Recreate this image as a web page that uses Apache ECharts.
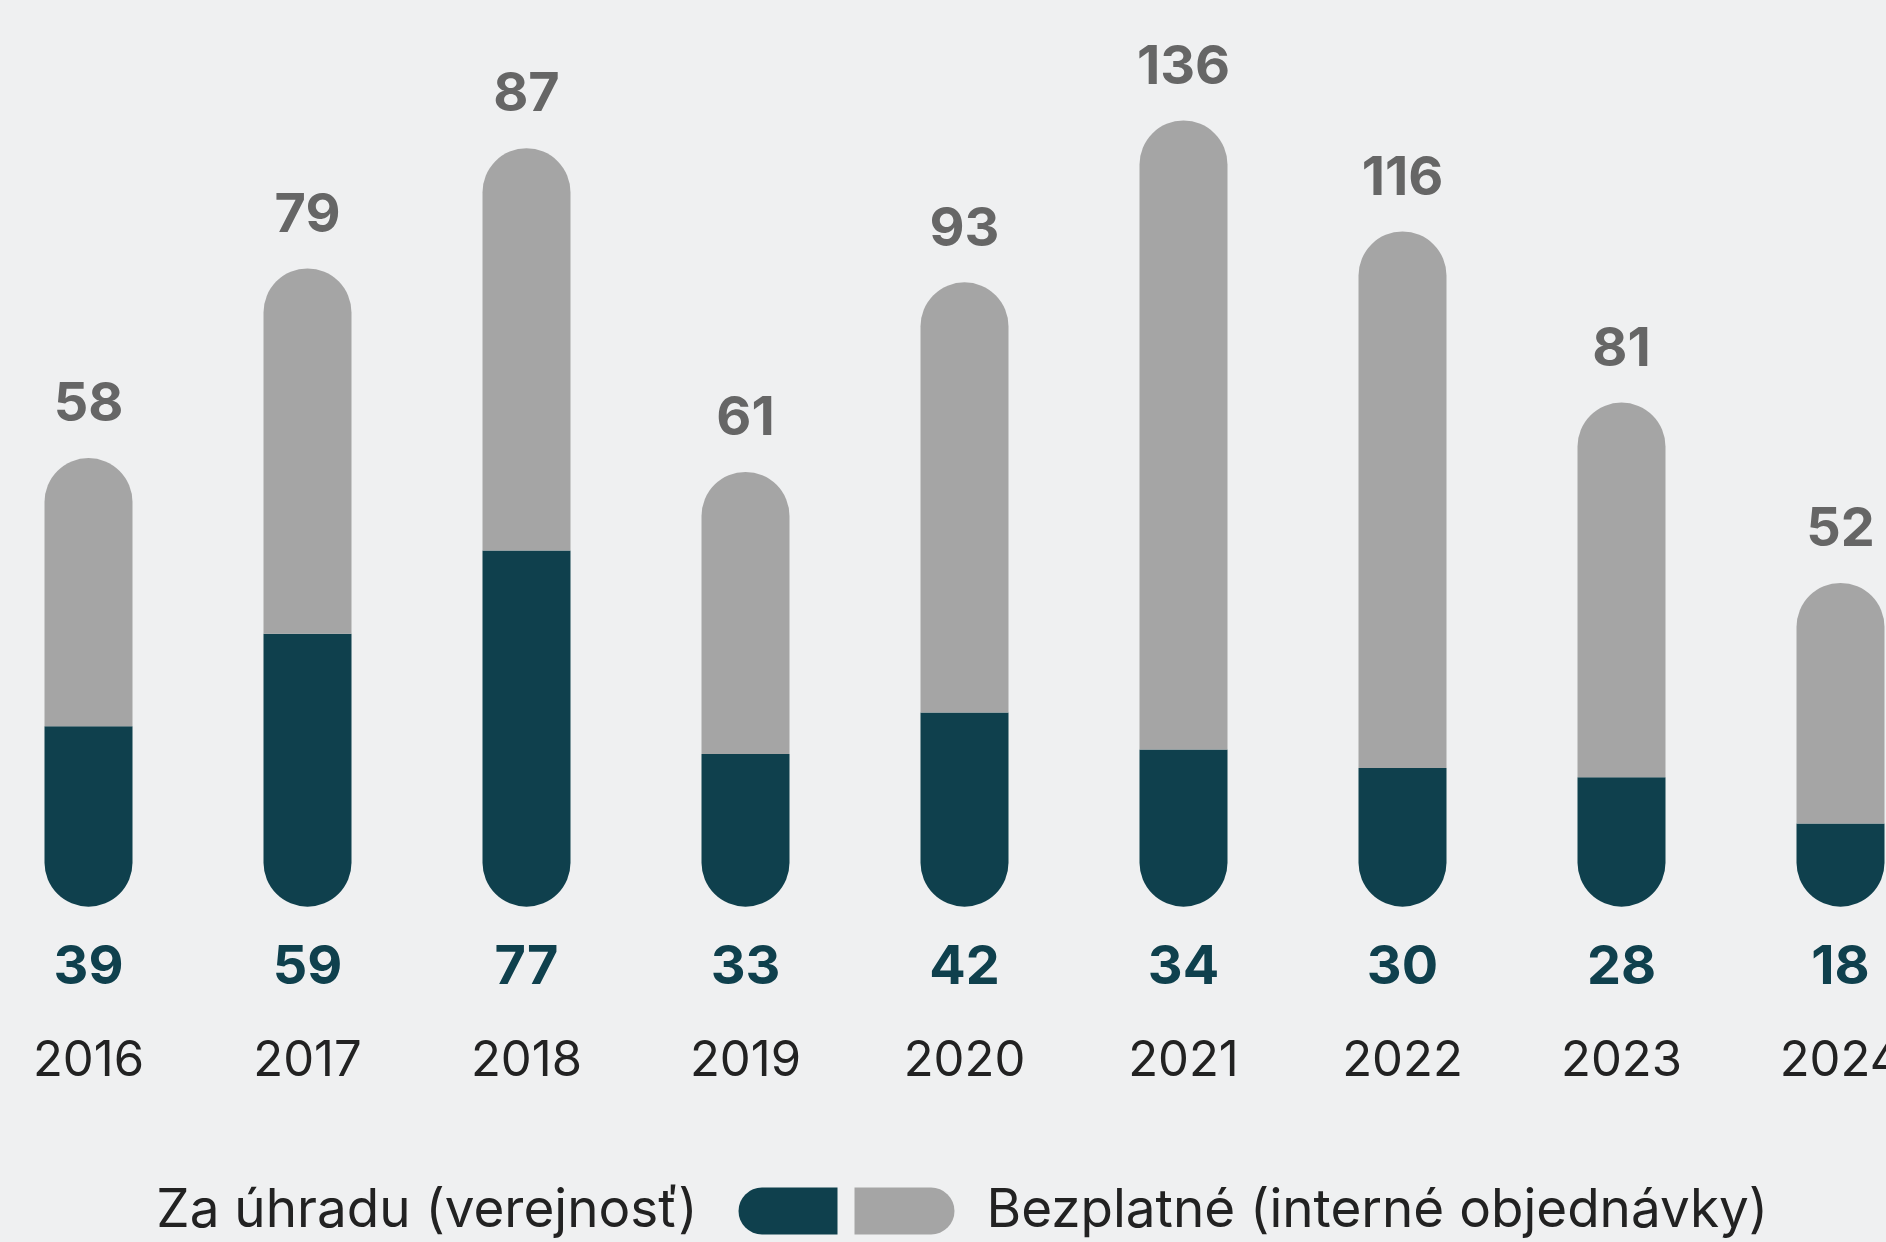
<!DOCTYPE html>
<html>
<head>
<meta charset="utf-8">
<script src="https://cdn.jsdelivr.net/npm/echarts@6/dist/echarts.min.js"></script>
<style>
  html, body { margin: 0; padding: 0; background: #eff0f1; overflow: hidden; }
  /* the chart runs past both edges of the page, so the canvas is wider and shifted left */
  #chart { width: 1971px; height: 1242px; margin-left: -21.5px; }
</style>
</head>
<body>
<div id="chart"></div>
<script>
  var years = ['2016', '2017', '2018', '2019', '2020', '2021', '2022', '2023', '2024'];
  // za úhradu (verejnosť)
  var paid = [39, 59, 77, 33, 42, 34, 30, 28, 18];
  // bezplatné (interné objednávky)
  var free = [58, 79, 87, 61, 93, 136, 116, 81, 52];

  var darkColor = '#0f404d';
  var greyColor = '#a5a5a5';
  var font = 'Inter';

  var chart = echarts.init(document.getElementById('chart'));
  chart.setOption({
    backgroundColor: '#eff0f1',
    animation: false,
    grid: {
      left: 0,
      right: 0,
      top: 28,
      bottom: 335.3
    },
    legend: [{
      data: ['Za úhradu (verejnosť)'],
      right: 1112.5,
      top: 1183,
      padding: 0,
      align: 'right',
      itemWidth: 99,
      itemHeight: 47,
      icon: 'path://M23.5 0 L99 0 L99 47 L23.5 47 A23.5 23.5 0 0 1 23.5 0 Z',
      textStyle: {
        fontFamily: font,
        fontSize: 53,
        lineHeight: 56,
        color: '#222',
        padding: [0, 36, 0, 0]
      }
    }, {
      data: ['Bezplatné (interné objednávky)'],
      left: 875.5,
      top: 1183,
      padding: 0,
      align: 'left',
      itemWidth: 100,
      itemHeight: 47,
      icon: 'path://M0 0 L76.5 0 A23.5 23.5 0 0 1 76.5 47 L0 47 Z',
      textStyle: {
        fontFamily: font,
        fontSize: 53,
        lineHeight: 56,
        color: '#222',
        padding: [0, 0, 0, 27]
      }
    }],
    xAxis: {
      type: 'category',
      data: years,
      axisLine: { show: false },
      axisTick: { show: false },
      axisLabel: {
        margin: 130,
        fontFamily: font,
        fontSize: 49,
        color: '#222'
      }
    },
    yAxis: {
      type: 'value',
      min: 0,
      max: 190,
      show: false,
      splitLine: { show: false }
    },
    series: [{
      name: 'Za úhradu (verejnosť)',
      type: 'bar',
      stack: 'total',
      barWidth: 88,
      data: paid,
      itemStyle: {
        color: darkColor,
        borderRadius: [0, 0, 44, 44]
      },
      label: {
        show: true,
        position: 'bottom',
        distance: 34,
        fontFamily: font,
        fontSize: 54,
        fontWeight: 'bold',
        color: darkColor
      }
    }, {
      name: 'Bezplatné (interné objednávky)',
      type: 'bar',
      stack: 'total',
      barWidth: 88,
      data: free,
      itemStyle: {
        color: greyColor,
        borderRadius: [44, 44, 0, 0]
      },
      label: {
        show: true,
        position: 'top',
        distance: 26,
        fontFamily: font,
        fontSize: 54,
        fontWeight: 'bold',
        color: '#666'
      }
    }]
  });
</script>
</body>
</html>
